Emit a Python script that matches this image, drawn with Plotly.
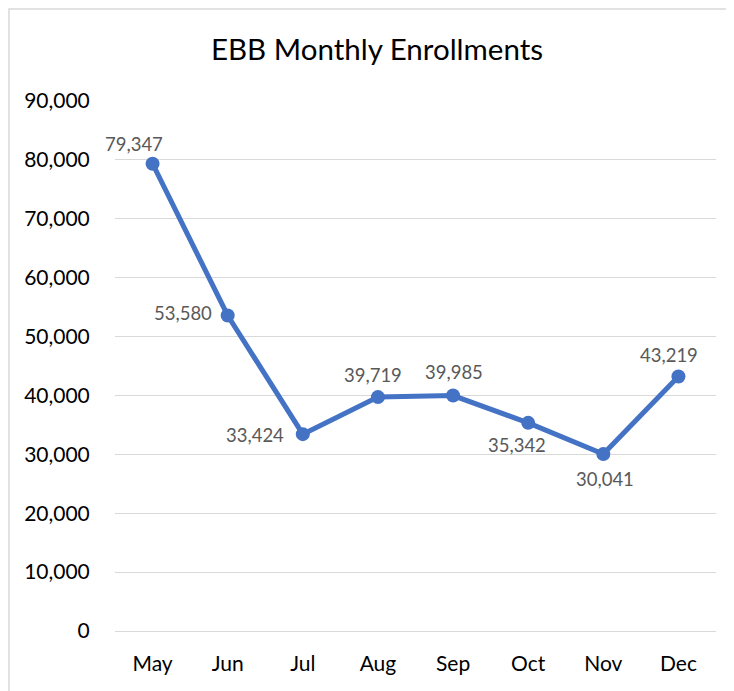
import plotly.graph_objects as go

months = ["May", "Jun", "Jul", "Aug", "Sep", "Oct", "Nov", "Dec"]
enrollments = [79347, 53580, 33424, 39719, 39985, 35342, 30041, 43219]
y_ticks = [0, 10000, 20000, 30000, 40000, 50000, 60000, 70000, 80000, 90000]
y_tick_labels = [f"{v:,}" for v in y_ticks]
# label offsets (pixels) relative to each point
label_dx = [-19, -45, -48, -5, 1, -11, 2, -9]
label_dy = [20, 2, -1, 22, 24, -22, -25, 21]

# page body has an 8px margin, so the figure is placed at (8, 8)
W, H = 726, 683
L, R, T, B = 107, 18, 93, 60
FONT = "Lato"
BLUE = "#4472C4"

fig = go.Figure()
fig.add_trace(go.Scatter(
    x=months, y=enrollments, mode="lines+markers",
    line=dict(color=BLUE, width=5),
    marker=dict(color=BLUE, size=14),
    cliponaxis=False, hoverinfo="x+y", showlegend=False,
))

for m, v, dx, dy in zip(months, enrollments, label_dx, label_dy):
    fig.add_annotation(x=m, y=v, text=f"{v:,}", showarrow=False,
                       xshift=dx, yshift=dy,
                       font=dict(family=FONT, size=18.5, color="#595959"))

pw = W - L - R
ph = H - T - B
fig.add_shape(type="rect", xref="paper", yref="paper",
              x0=(1 - L) / pw, x1=(W + 10 - L) / pw,
              y0=-(H + 10 - T - ph) / ph, y1=1 + (T - 1) / ph,
              line=dict(color="#D9D9D9", width=1.5), layer="below")

fig.update_layout(
    width=W, height=H,
    margin=dict(l=L, r=R, t=T, b=B),
    paper_bgcolor="white", plot_bgcolor="white",
    font=dict(family=FONT, color="#000000"),
    title=dict(text="EBB Monthly Enrollments", x=369 / W, xanchor="center",
               xref="container", yref="container", y=1 - 42 / H, yanchor="middle",
               font=dict(family=FONT, size=29.5, color="#000000")),
    xaxis=dict(type="category", range=[-0.5, 7.5], showgrid=False,
               showline=False, zeroline=False,
               tickfont=dict(family=FONT, size=21, color="#000000"),
               ticks="outside", ticklen=14, tickcolor="rgba(0,0,0,0)"),
    yaxis=dict(range=[0, 90000], tickvals=y_ticks, ticktext=y_tick_labels,
               showgrid=True, gridcolor="#D9D9D9", gridwidth=1.3,
               zeroline=True, zerolinecolor="#D9D9D9", zerolinewidth=1.3,
               showline=False,
               tickfont=dict(family=FONT, size=21, color="#000000"),
               ticks="outside", ticklen=20, tickcolor="rgba(0,0,0,0)"),
)

fig.write_html("out.html")
